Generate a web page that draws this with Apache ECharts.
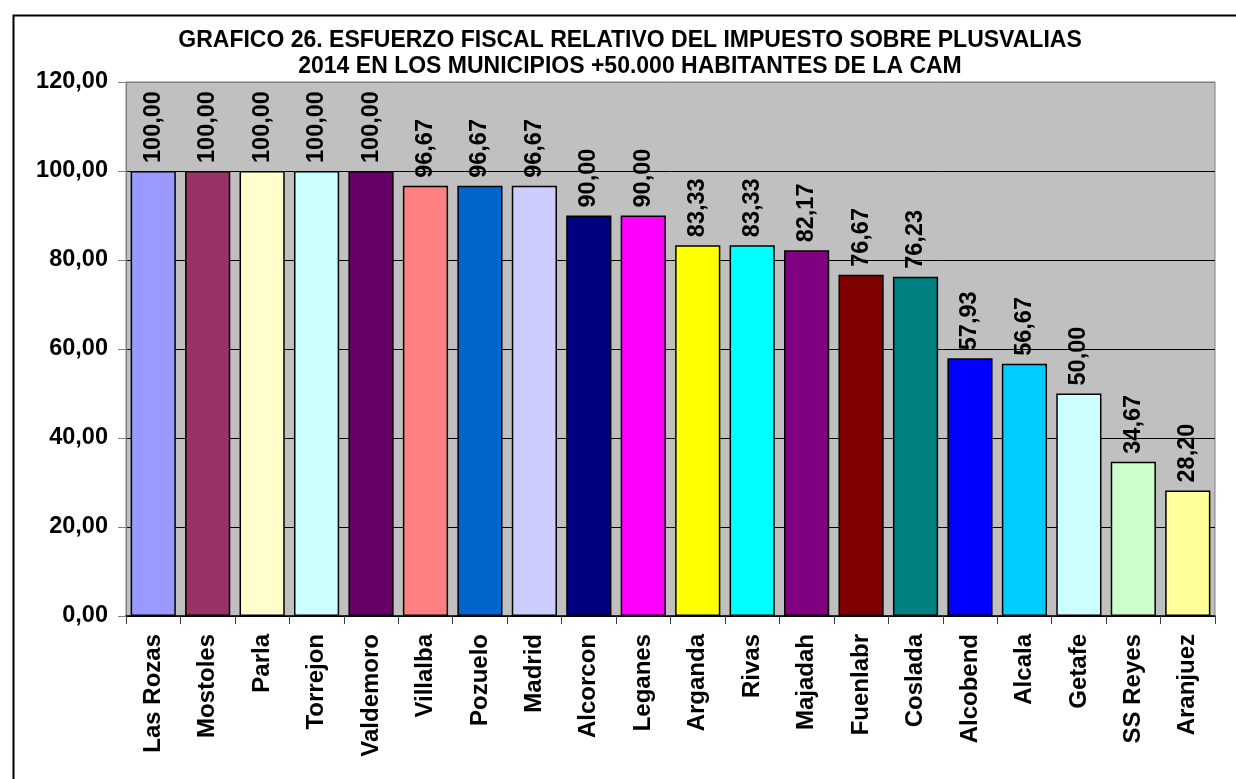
<!DOCTYPE html>
<html>
<head>
<meta charset="utf-8">
<script src="https://cdn.jsdelivr.net/npm/echarts@6/dist/echarts.min.js"></script>
<style>
html,body{margin:0;padding:0;background:#fff;}
#chart{width:1236px;height:779px;}
</style>
</head>
<body>
<div id="chart"></div>
<script>
var categories = ["Las Rozas","Mostoles","Parla","Torrejon","Valdemoro","Villalba","Pozuelo","Madrid","Alcorcon","Leganes","Arganda","Rivas","Majadah","Fuenlabr","Coslada","Alcobend","Alcala","Getafe","SS Reyes","Aranjuez"];
var values = [100,100,100,100,100,96.67,96.67,96.67,90,90,83.33,83.33,82.17,76.67,76.23,57.93,56.67,50,34.67,28.20];
var barColors = ["#9999FF","#993366","#FFFFCC","#CCFFFF","#660066","#FF8080","#0066CC","#CCCCFF","#000080","#FF00FF","#FFFF00","#00FFFF","#800080","#800000","#008080","#0000FF","#00CCFF","#CCFFFF","#CCFFCC","#FFFF99"];
var titleLines = ["GRAFICO 26. ESFUERZO FISCAL RELATIVO DEL IMPUESTO SOBRE PLUSVALIAS","2014 EN LOS MUNICIPIOS +50.000 HABITANTES DE LA CAM"];

function fmt(v){ return v.toFixed(2).replace('.', ','); }

var font = "'Liberation Sans', Arial, sans-serif";
var chart = echarts.init(document.getElementById('chart'));
chart.setOption({
  animation: false,
  backgroundColor: '#ffffff',
  title: {
    text: titleLines.join('\n'),
    left: 630, top: 28, textAlign: 'center', padding: 0,
    textStyle: { fontFamily: font, fontWeight: 'bold', fontSize: 23, color: '#000', lineHeight: 26 }
  },
  graphic: [{
    type: 'rect', left: 11, top: 13, silent: true,
    shape: { width: 1300, height: 800 },
    style: { fill: 'none', stroke: '#000', lineWidth: 2 }
  }],
  grid: {
    left: 126, top: 82, right: 21, bottom: 163,
    show: true, backgroundColor: '#C0C0C0', borderColor: '#808080', borderWidth: 1
  },
  xAxis: {
    type: 'category', data: categories,
    axisLine: { show: true, lineStyle: { color: '#000', width: 1.5 } },
    axisTick: { show: true, length: 8, alignWithLabel: false, lineStyle: { color: '#404040' } },
    axisLabel: { rotate: 90, margin: 18, interval: 0, fontFamily: font, fontWeight: 'bold', fontSize: 24, color: '#000' },
    splitLine: { show: false }
  },
  yAxis: {
    type: 'value', min: 0, max: 120, interval: 20,
    axisLine: { show: true, lineStyle: { color: '#808080' } },
    axisTick: { show: true, length: 8, lineStyle: { color: '#808080' } },
    axisLabel: { margin: 18, fontFamily: font, fontWeight: 'bold', fontSize: 23.5, color: '#000', formatter: function(v){ return fmt(v); } },
    splitLine: { show: true, lineStyle: { color: ['#000','#000','#000','#000','#000','#000','#808080'], width: 1 } }
  },
  series: [{
    type: 'bar',
    data: values.map(function(v, i){ return { value: v, itemStyle: { color: barColors[i] } }; }),
    barCategoryGap: '17%',
    itemStyle: { borderColor: '#000', borderWidth: 1.5 },
    label: {
      show: true, position: 'top', rotate: 90, distance: 8,
      align: 'left', verticalAlign: 'middle',
      fontFamily: font, fontWeight: 'bold', fontSize: 23.5, color: '#000',
      formatter: function(p){ return fmt(p.value); }
    }
  }]
});
</script>
</body>
</html>
